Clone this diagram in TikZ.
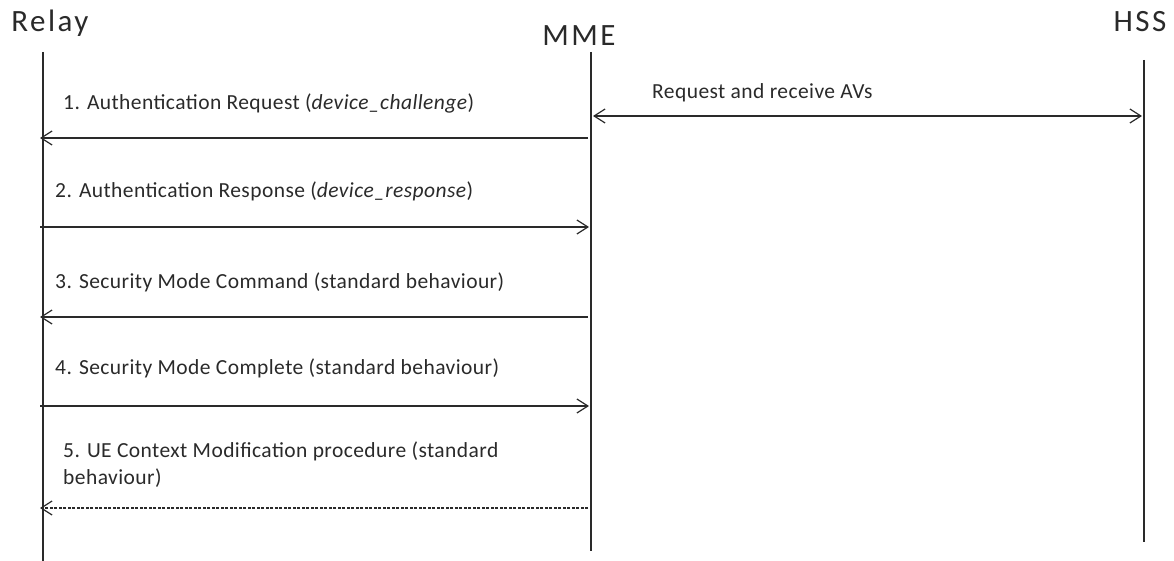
\documentclass[tikz,border=0pt]{standalone}
\usepackage{fontspec}
\setmainfont{Carlito}
\newfontfamily\widefont[LetterSpace=2]{Carlito}
\newfontfamily\titlefont[LetterSpace=8]{Carlito}
\usetikzlibrary{arrows.meta}
\definecolor{ink}{HTML}{2A2A2A}
\tikzset{
  x=1pt, y=-1pt,
  actor/.style={font=\titlefont\fontsize{31}{36}\selectfont, text=ink, inner sep=0pt},
  lifeline/.style={draw=ink, line width=1.5pt},
  msg/.style={draw=ink, line width=1.2pt, -{Straight Barb[length=11pt,width=14pt,line width=1.2pt]}},
  twoway/.style={draw=ink, line width=1.2pt, {Straight Barb[length=11pt,width=14pt,line width=1.2pt]}-{Straight Barb[length=11pt,width=14pt,line width=1.2pt]}},
  reply/.style={msg, dash pattern=on 3pt off 1.5pt},
  lbl/.style={font=\widefont\fontsize{21.5}{27}\selectfont, text=ink, inner sep=0pt, anchor=base west, align=left}
}
\begin{document}
\begin{tikzpicture}
\useasboundingbox (0,0) rectangle (1174,561);

% participants
\node[actor, anchor=base] (relay) at (50,32) {Relay};
\node[actor, anchor=base] (mme) at (579,46) {MME};
\node[actor, anchor=base] (hss) at (1140,32) {HSS};

% lifelines
\coordinate (rtop) at (43,52);  \coordinate (rbot) at (43,561);
\coordinate (mtop) at (591,52); \coordinate (mbot) at (591,551);
\coordinate (htop) at (1144,60); \coordinate (hbot) at (1144,542);
\draw[lifeline] (rtop) -- (rbot);
\draw[lifeline] (mtop) -- (mbot);
\draw[lifeline] (htop) -- (hbot);

% message end points
\coordinate (m1) at (588,138); \coordinate (r1) at (40,138);
\coordinate (mav) at (593,116); \coordinate (hav) at (1142,116);
\coordinate (r2) at (40,227);  \coordinate (m2) at (589,227);
\coordinate (m3) at (588,317); \coordinate (r3) at (40,317);
\coordinate (r4) at (40,406);  \coordinate (m4) at (589,406);
\coordinate (m5) at (588,508); \coordinate (r5) at (40,508);

% messages
\draw[msg] (m1) -- (r1);
\draw[twoway] (mav) -- (hav);
\draw[msg] (r2) -- (m2);
\draw[msg] (m3) -- (r3);
\draw[msg] (r4) -- (m4);
\draw[reply] (m5) -- (r5);

% labels
\node[lbl] (l1) at (63,110) {1. Authentication Request (\textit{device\_challenge})};
\node[lbl] (lav) at (652,99) {Request and receive AVs};
\node[lbl] (l2) at (55,198) {2. Authentication Response (\textit{device\_response})};
\node[lbl] (l3) at (55,288) {3. Security Mode Command (standard behaviour)};
\node[lbl] (l4) at (55,374) {4. Security Mode Complete (standard behaviour)};
\node[lbl] (l5) at (63,484) {5. UE Context Modification procedure (standard\\behaviour)};
\end{tikzpicture}
\end{document}
